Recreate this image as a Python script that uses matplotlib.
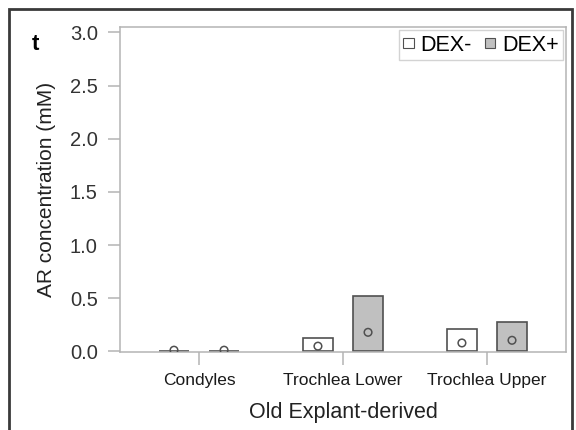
import numpy as np
import matplotlib.pyplot as plt
from matplotlib.patches import Rectangle

plt.rcParams['font.family'] = ['Liberation Sans', 'DejaVu Sans']

categories = ['Condyles', 'Trochlea Lower', 'Trochlea Upper']
series = ['DEX-', 'DEX+']
bar_dex_minus = [0.006, 0.125, 0.215]
bar_dex_plus = [0.006, 0.525, 0.28]
pt_dex_minus = [0.012, 0.05, 0.08]
pt_dex_plus = [0.012, 0.18, 0.105]
yticks = [0.0, 0.5, 1.0, 1.5, 2.0, 2.5, 3.0]

edge = '#505050'
axis_col = '#b4b4b4'

fig = plt.figure(figsize=(5.76, 4.30), dpi=100)
ax = fig.add_axes([120/576, 1 - 352/430, 446/576, 325/430])

x = np.arange(len(categories))
off = 0.174
w = 0.208

ax.bar(x - off, bar_dex_minus, w, color='white', edgecolor=edge, linewidth=1.2, label=series[0], zorder=2)
ax.bar(x + off, bar_dex_plus, w, color='#c0c0c0', edgecolor=edge, linewidth=1.2, label=series[1], zorder=2)
ax.scatter(x - off, pt_dex_minus, s=30, facecolor='none', edgecolor=edge, linewidth=1.1, zorder=3)
ax.scatter(x + off, pt_dex_plus, s=30, facecolor='none', edgecolor=edge, linewidth=1.1, zorder=3)

ax.set_xlim(-0.549, 2.549)
ax.set_ylim(-0.005, 3.05)
ax.set_xticks(x)
ax.set_xticklabels(categories, fontsize=12.5, color='#1a1a1a')
ax.set_yticks(yticks)
ax.set_yticklabels(['%.1f' % v for v in yticks], fontsize=14.5, color='#333333')
ax.tick_params(axis='both', direction='out', color=axis_col, length=9, width=1.1)
ax.tick_params(axis='y', pad=7)
ax.tick_params(axis='x', pad=6)
for s in ax.spines.values():
    s.set_color(axis_col)
    s.set_linewidth(1.1)

ax.set_xlabel('Old Explant-derived', fontsize=15.5, color='#222222', labelpad=10)
ax.set_ylabel('AR concentration (mM)', fontsize=15, color='#222222', labelpad=10)

# small square markers in the legend
leg = ax.legend(loc='upper right', ncol=2, fontsize=15.5, frameon=True, fancybox=False,
                handlelength=0.5, handleheight=0.3, handletextpad=0.3, columnspacing=0.6,
                borderpad=0.2, borderaxespad=0.15)
leg.get_frame().set_edgecolor('#c8c8c8')
leg.get_frame().set_linewidth(1.0)
for h in leg.legend_handles:
    h.set_linewidth(0.8)

fig.text(35/576, 1 - 45/430, 't', fontsize=16, fontweight='bold', ha='center', va='center')

fig.patches.append(Rectangle((9/576, -0.05), 563/576, 1.05 - 9/430, transform=fig.transFigure,
                             fill=False, edgecolor='#3a3a3a', linewidth=2.0))

fig.savefig('out.png', dpi=100)
